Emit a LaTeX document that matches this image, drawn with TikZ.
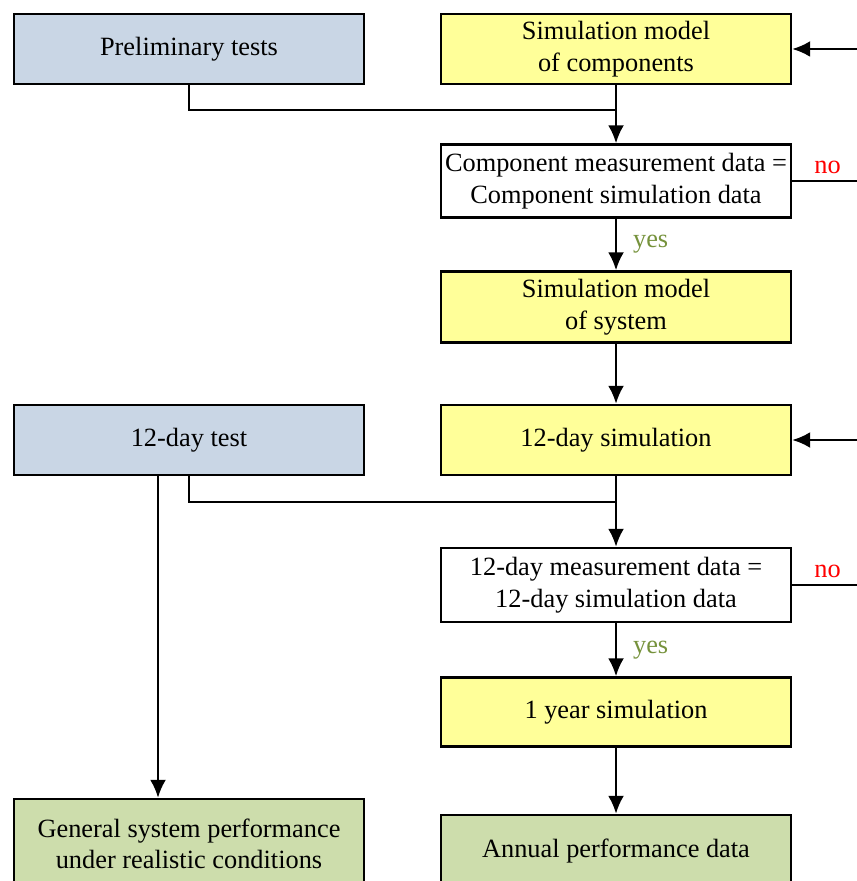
\documentclass[tikz,border=0pt]{standalone}
\usepackage{fontspec}
\setmainfont{Liberation Serif}
\usetikzlibrary{shapes,arrows,arrows.meta}
\usetikzlibrary{positioning}
\definecolor{testblue}{RGB}{201,214,229}
\definecolor{simyellow}{RGB}{255,255,153}
\definecolor{resgreen}{RGB}{205,221,172}
\definecolor{yesgreen}{RGB}{118,146,60}

\begin{document}
\begin{tikzpicture}[x=0.02cm, y=-0.02cm, line width=1.4pt,
        font=\fontsize{15}{18}\selectfont,
        >={Latex[length=0.36cm,width=0.32cm]},
        box/.style={rectangle, draw, minimum width=7cm, minimum height=1.4cm, align=center, inner sep=1pt},
        test/.style={box, fill=testblue},
        sim/.style={box, fill=simyellow},
        check/.style={box, fill=white},
        result/.style={box, fill=resgreen}]
        \useasboundingbox (0,0) rectangle (857,881);
        \clip (0,0) rectangle (857,881);

        \node at (189,49) [test] (prelim) {Preliminary tests};
        \node at (616,49) [sim] (simcomp) {Simulation model\\of components};
        \node at (616,181) [check, minimum height=1.46cm] (compmeas) {Component measurement data =\\Component simulation data};
        \node at (616,307) [sim, minimum height=1.42cm] (simsys) {Simulation model\\of system};
        \node at (189,440) [test] (test12) {12-day test};
        \node at (616,440) [sim] (sim12) {12-day simulation};
        \node at (616,585) [check, minimum height=1.48cm] (meas12) {12-day measurement data =\\12-day simulation data};
        \node at (616,712) [sim, minimum height=1.38cm] (year) {1 year simulation};
        \node at (189,844) [result, minimum height=1.8cm] (general) {General system performance\\under realistic conditions};
        \node at (616,851) [result, minimum height=1.44cm] (annual) {Annual performance data};

        \coordinate (joinA) at (616,110);
        \coordinate (joinB) at (616,502);
        \coordinate (noA) at (863,181);
        \coordinate (noB) at (863,585);

        \draw (prelim) |- (joinA);
        \draw[->] (simcomp) -- (compmeas);
        \draw[->] (compmeas) -- (simsys) node [midway, right=0.2cm, yesgreen] {yes};
        \draw[->] (compmeas.east) -- (noA) node [midway, above, red] {no} |- (simcomp.east);
        \draw[->] (simsys) -- (sim12);

        \draw (test12) |- (joinB);
        \draw[->] ([xshift=-0.62cm]test12.south) -- ([xshift=-0.62cm]general.north);
        \draw[->] (sim12) -- (meas12);
        \draw[->] (meas12.east) -- (noB) node [midway, above, red] {no} |- (sim12.east);
        \draw[->] (meas12) -- (year) node [midway, right=0.2cm, yesgreen] {yes};
        \draw[->] (year) -- (annual);
    \end{tikzpicture}
\end{document}
